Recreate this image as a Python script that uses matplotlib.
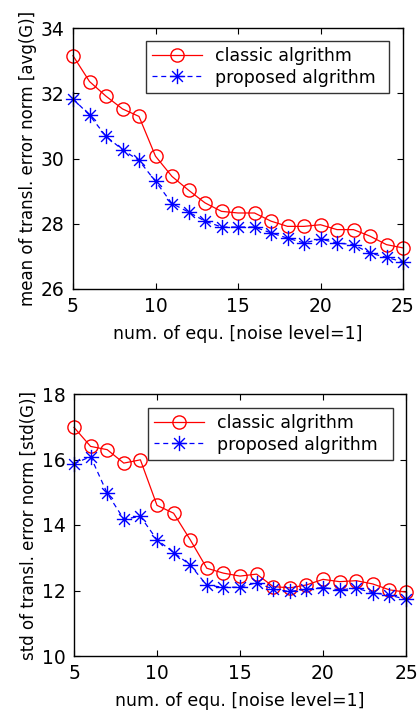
import matplotlib
matplotlib.use("Agg")
import matplotlib.pyplot as plt
from matplotlib.path import Path

plt.rcParams['font.family'] = ['DejaVu Sans']

x = list(range(5, 26))
avg_classic = [33.15, 32.36, 31.91, 31.52, 31.29, 30.07, 29.45, 29.03, 28.64, 28.38, 28.33,
               28.33, 28.08, 27.92, 27.92, 27.97, 27.82, 27.82, 27.62, 27.36, 27.26]
avg_proposed = [31.83, 31.33, 30.68, 30.27, 29.94, 29.30, 28.62, 28.36, 28.08, 27.90, 27.90,
                27.90, 27.72, 27.56, 27.41, 27.53, 27.41, 27.36, 27.10, 26.97, 26.83]
std_classic = [16.98, 16.40, 16.30, 15.89, 15.99, 14.60, 14.36, 13.55, 12.68, 12.53, 12.44,
               12.50, 12.12, 12.08, 12.17, 12.34, 12.27, 12.30, 12.20, 12.02, 11.95]
std_proposed = [15.87, 16.09, 14.97, 14.18, 14.26, 13.55, 13.16, 12.78, 12.16, 12.10, 12.10,
                12.24, 12.04, 11.97, 12.04, 12.09, 12.02, 12.07, 11.93, 11.86, 11.73]

xticks = [5, 10, 15, 20, 25]
xlabel = "num. of equ. [noise level=1]"
labels = ["classic algrithm", "proposed algrithm"]

# MATLAB-style asterisk marker (+ and x overlaid)
d = 0.7071
asterisk = Path([(-1, 0), (1, 0), (0, -1), (0, 1), (-d, -d), (d, d), (-d, d), (d, -d)],
                [Path.MOVETO, Path.LINETO] * 4)

fig = plt.figure(figsize=(4.17, 7.18), dpi=100)
W, H = 417, 718
ax1 = fig.add_axes([73 / W, 1 - 289 / H, (403 - 73) / W, (289 - 28) / H])
ax2 = fig.add_axes([74 / W, 1 - 656 / H, (406 - 74) / W, (656 - 394) / H])


def draw(ax, yc, yp, ylim, yticks, ylabel, leg_bbox):
    ax.plot(x, yc, color='red', marker='o', markersize=9.5, markerfacecolor='none',
            markeredgecolor='red', markeredgewidth=1.0, linewidth=0.9,
            label=labels[0], clip_on=False)
    ax.plot(x, yp, color='blue', marker=asterisk, markersize=11, markeredgewidth=1.0,
            linestyle=(0, (4, 3)), linewidth=0.9, label=labels[1], clip_on=False)
    ax.set_xlim(5, 25)
    ax.set_ylim(*ylim)
    ax.set_xticks(xticks)
    ax.set_yticks(yticks)
    ax.tick_params(direction='in', top=True, right=True, labelsize=13.5, length=4, pad=6)
    ax.set_xlabel(xlabel, fontsize=12.5, labelpad=6)
    ax.set_ylabel(ylabel, fontsize=12, labelpad=3)
    for s in ax.spines.values():
        s.set_linewidth(1.0)
    leg = ax.legend(loc='upper left', bbox_to_anchor=leg_bbox, mode='expand',
                    fontsize=12.5, frameon=True,
                    fancybox=False, edgecolor='black', handlelength=2.9, borderpad=0.35,
                    labelspacing=0.2, handletextpad=0.7, borderaxespad=0)
    leg.get_frame().set_linewidth(1.0)


draw(ax1, avg_classic, avg_proposed, (26, 34), [26, 28, 30, 32, 34],
     "mean of transl. error norm [avg(G)]",
     ((146 - 73) / 330, (289 - 91) / 261, (389 - 146) / 330, 50 / 261))
draw(ax2, std_classic, std_proposed, (10, 18), [10, 12, 14, 16, 18],
     "std of transl. error norm [std(G)]",
     ((148 - 74) / 332, (656 - 458) / 262, (393 - 148) / 332, 50 / 262))

fig.savefig("out.png", dpi=100)
